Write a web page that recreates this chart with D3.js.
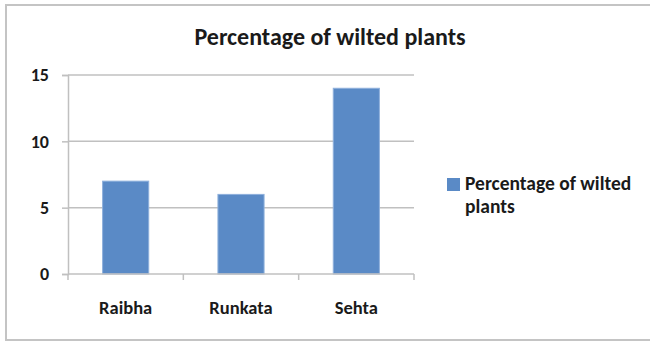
<!DOCTYPE html>
<html>
<head>
<meta charset="utf-8">
<script src="https://cdn.jsdelivr.net/npm/d3@7"></script>
<style>
  html, body { margin: 0; padding: 0; background: #fff; }
  svg text { font-family: Calibri, Carlito, Lato, "Open Sans", sans-serif; fill: #1a1a1a; font-weight: bold; }
</style>
</head>
<body>
<svg id="chart" width="650" height="341"></svg>
<script>
const categories = ["Raibha", "Runkata", "Sehta"];
const seriesName = "Percentage of wilted plants";
const values = [7, 6, 14];
const yTicks = [0, 5, 10, 15];

const svg = d3.select("#chart");

// outer frame
svg.append("rect")
  .attr("x", 6).attr("y", 5)
  .attr("width", 650).attr("height", 335)
  .attr("fill", "#fff")
  .attr("stroke", "#c4c4c4").attr("stroke-width", 2);

const plot = { left: 68, right: 414, top: 75, bottom: 274 };

const x = d3.scaleBand()
  .domain(categories)
  .range([plot.left, plot.right])
  .paddingInner(0.6).paddingOuter(0.3);

const y = d3.scaleLinear()
  .domain([0, 15])
  .range([plot.bottom, plot.top]);

// title
svg.append("text")
  .attr("x", 330).attr("y", 45)
  .attr("text-anchor", "middle")
  .attr("font-size", 24)
  .text(seriesName);

// horizontal gridlines
svg.append("g")
  .selectAll("line")
  .data(yTicks.filter(d => d > 0))
  .join("line")
  .attr("x1", plot.left).attr("x2", plot.right)
  .attr("y1", d => y(d)).attr("y2", d => y(d))
  .attr("stroke", "#c0c0c0").attr("stroke-width", 1.5);

// y axis
const yAxis = svg.append("g")
  .attr("transform", `translate(${plot.left},0)`)
  .call(d3.axisLeft(y).tickValues(yTicks).tickSize(6).tickPadding(13).tickFormat(d3.format("d")));
yAxis.select(".domain").attr("stroke", "#c0c0c0").attr("stroke-width", 1.5);
yAxis.selectAll(".tick line").attr("stroke", "#c0c0c0").attr("stroke-width", 1.5);
yAxis.selectAll(".tick text").attr("font-size", 18).attr("font-family", null).attr("fill", "#1a1a1a");

// bars
svg.append("g")
  .selectAll("rect")
  .data(values)
  .join("rect")
  .attr("x", (d, i) => x(categories[i]))
  .attr("width", x.bandwidth())
  .attr("y", d => y(d))
  .attr("height", d => y(0) - y(d))
  .attr("fill", "#5a8ac6")
  .attr("stroke", "#8eb0dc").attr("stroke-width", 1);

// x axis with ticks between categories
const xAxis = svg.append("g").attr("transform", `translate(0,${plot.bottom})`);
xAxis.append("line")
  .attr("x1", plot.left).attr("x2", plot.right)
  .attr("stroke", "#c0c0c0").attr("stroke-width", 1.5);
const boundaries = d3.range(categories.length + 1).map(i => plot.left + i * (plot.right - plot.left) / categories.length);
xAxis.selectAll(".btick")
  .data(boundaries)
  .join("line")
  .attr("class", "btick")
  .attr("x1", d => d).attr("x2", d => d)
  .attr("y1", 0).attr("y2", 6)
  .attr("stroke", "#c0c0c0").attr("stroke-width", 1.5);
xAxis.selectAll(".clabel")
  .data(categories)
  .join("text")
  .attr("class", "clabel")
  .attr("x", d => x(d) + x.bandwidth() / 2)
  .attr("y", 40)
  .attr("text-anchor", "middle")
  .attr("font-size", 18.5)
  .text(d => d);

// legend
const legend = svg.append("g");
legend.append("rect")
  .attr("x", 447).attr("y", 178)
  .attr("width", 13).attr("height", 13)
  .attr("fill", "#5a8ac6");
const words = seriesName.split(" ");
legend.append("text")
  .attr("x", 465).attr("y", 190)
  .attr("font-size", 19.5)
  .text(words.slice(0, 3).join(" "));
legend.append("text")
  .attr("x", 465).attr("y", 213)
  .attr("font-size", 19.5)
  .text(words.slice(3).join(" "));
</script>
</body>
</html>
